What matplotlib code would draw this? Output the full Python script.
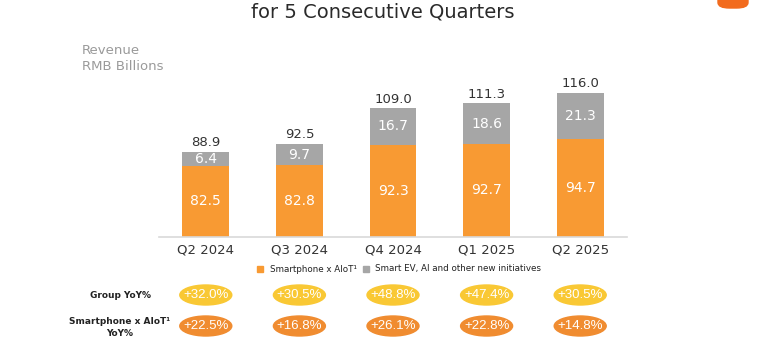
import matplotlib.pyplot as plt
from matplotlib.patches import Ellipse, FancyBboxPatch
from matplotlib.transforms import blended_transform_factory

plt.rcParams["font.family"] = ["DejaVu Sans"]

quarters = ["Q2 2024", "Q3 2024", "Q4 2024", "Q1 2025", "Q2 2025"]
smartphone = [82.5, 82.8, 92.3, 92.7, 94.7]
smart_ev = [6.4, 9.7, 16.7, 18.6, 21.3]
totals = [88.9, 92.5, 109.0, 111.3, 116.0]
group_yoy = ["+32.0%", "+30.5%", "+48.8%", "+47.4%", "+30.5%"]
phone_yoy = ["+22.5%", "+16.8%", "+26.1%", "+22.8%", "+14.8%"]

ORANGE = "#F89A33"
GRAY = "#A6A6A6"
DARK = "#333333"

W, H = 764, 364
fig = plt.figure(figsize=(W / 100, H / 100), dpi=100)


def fy(py):
    # pixel y from top -> figure fraction
    return 1 - py / H


ax = fig.add_axes([159 / W, fy(237), 468 / W, 177 / H])
x = list(range(len(quarters)))
ax.bar(x, smartphone, width=0.5, color=ORANGE, bottom=0)
ax.bar(x, smart_ev, width=0.5, color=GRAY, bottom=smartphone)
ax.set_xlim(-0.5, 4.5)
ax.set_ylim(49.5, 131.4)

for i in x:
    ax.text(i, (49.5 + smartphone[i]) / 2, f"{smartphone[i]:.1f}", ha="center", va="center",
            color="white", fontsize=10)
    ax.text(i, smartphone[i] + smart_ev[i] / 2, f"{smart_ev[i]:.1f}", ha="center", va="center",
            color="white", fontsize=10)
    ax.text(i, totals[i] + 1.3, f"{totals[i]:.1f}", ha="center", va="bottom",
            color=DARK, fontsize=9.5)

for s in ["top", "right", "left"]:
    ax.spines[s].set_visible(False)
ax.spines["bottom"].set_color("#D9D9D9")
ax.spines["bottom"].set_linewidth(1.2)
ax.set_yticks([])
ax.set_xticks(x)
ax.set_xticklabels(quarters, fontsize=9.5, color=DARK)
ax.tick_params(axis="x", length=0, pad=5)

# title (partly cut off at the top)
fig.text(383 / W, fy(12), "for 5 Consecutive Quarters", ha="center", va="center",
         fontsize=14, color="#2A2A2A")
fig.patches.append(FancyBboxPatch((718 / W, fy(8)), 30 / W, 14 / H,
                                  boxstyle="round,pad=0,rounding_size=0.015",
                                  transform=fig.transFigure, color="#F26B1D"))

fig.text(82 / W, fy(51), "Revenue", ha="left", va="center", fontsize=9.5, color="#9A9A9A")
fig.text(82 / W, fy(67), "RMB Billions", ha="left", va="center", fontsize=9.5, color="#9A9A9A")

# legend
fig.patches.append(plt.Rectangle((257 / W, fy(272)), 6 / W, 6 / H, transform=fig.transFigure,
                                 color=ORANGE))
fig.text(270 / W, fy(269), "Smartphone x AIoT\u00b9", ha="left", va="center", fontsize=6.3,
         color="#222222")
fig.patches.append(plt.Rectangle((363 / W, fy(272)), 6 / W, 6 / H, transform=fig.transFigure,
                                 color=GRAY))
fig.text(375 / W, fy(269), "Smart EV, AI and other new initiatives", ha="left", va="center",
         fontsize=6.3, color="#222222")

# YoY rows
fig.text(121 / W, fy(295), "Group YoY%", ha="center", va="center", fontsize=6.5,
         color="#222222", fontweight="bold")
fig.text(120 / W, fy(321), "Smartphone x AIoT\u00b9", ha="center", va="center", fontsize=6.5,
         color="#222222", fontweight="bold")
fig.text(120 / W, fy(333), "YoY%", ha="center", va="center", fontsize=6.5,
         color="#222222", fontweight="bold")

tr = blended_transform_factory(ax.transData, fig.transFigure)
for i in x:
    for py, lab, col in [(295, group_yoy[i], "#F9C834"), (326, phone_yoy[i], "#F08C30")]:
        e = Ellipse((i, fy(py)), 52 / 93.6, 20 / H, transform=tr, color=col, clip_on=False)
        ax.add_artist(e)
        ax.text(i, fy(py), lab, transform=tr, ha="center", va="center", color="white",
                fontsize=9.5, family=["Liberation Sans", "DejaVu Sans"], clip_on=False)

plt.savefig("out.png", dpi=100)
